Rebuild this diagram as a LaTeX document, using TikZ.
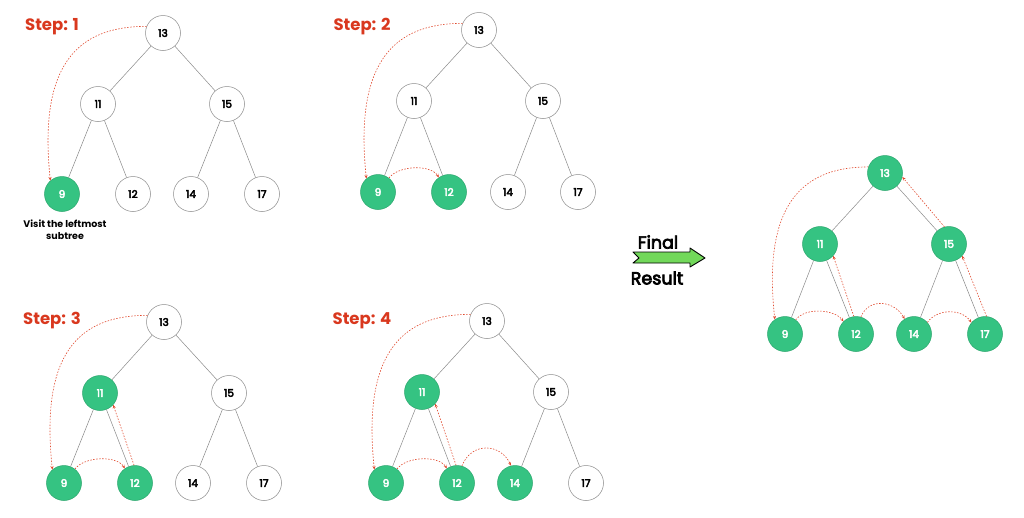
\documentclass[tikz,border=0pt]{standalone}
\usepackage{fontspec}
\setmainfont{Poppins}
\newfontfamily\popmed{Poppins}[FakeBold=4]
\usetikzlibrary{arrows.meta}
\definecolor{gfill}{HTML}{35C382}
\definecolor{gdraw}{HTML}{2AA56C}
\definecolor{stepred}{HTML}{D9381E}
\definecolor{arred}{HTML}{E04A2E}
\definecolor{edgegray}{HTML}{8A8A8A}
\definecolor{arrgreen}{HTML}{72D85A}
\tikzset{
  wn/.style={circle,draw=edgegray,line width=0.5pt,fill=white,minimum size=35pt,inner sep=0pt,font=\popmed\fontsize{10.5}{12}\selectfont,text=black},
  gn/.style={circle,draw=gdraw,line width=0.5pt,fill=gfill,minimum size=35pt,inner sep=0pt,font=\popmed\fontsize{10.5}{12}\selectfont,text=white},
  edge/.style={draw=edgegray,line width=0.5pt},
  trav/.style={draw=arred,line width=0.6pt,dash pattern=on 1.5pt off 1.5pt,-{Stealth[length=3.5pt,width=3pt]}},
  steplabel/.style={font=\fontsize{16.5}{19}\selectfont\bfseries,text=stepred,inner sep=0pt},
}
\begin{document}
\begin{tikzpicture}[x=1pt,y=-1pt]
\useasboundingbox (0,0) rectangle (1024,517);
% ---------- Step 1 ----------
\node[steplabel] (s1) at (52,27) {Step: 1};
\begin{scope}[shift={(163,33)}]
\node[wn] (a13) at (0,0) {13};
\node[wn] (a11) at (-65,71) {11};
\node[wn] (a15) at (64,71) {15};
\node[gn] (a9) at (-101,161) {9};
\node[wn] (a12) at (-30,161) {12};
\node[wn] (a14) at (28,161) {14};
\node[wn] (a17) at (99,161) {17};
\end{scope}
\draw[edge] (a13)--(a11) (a13)--(a15) (a11)--(a9) (a11)--(a12) (a15)--(a14) (a15)--(a17);
\draw[trav] (a13.158) .. controls +(-70,0) and +(-12,-115) .. (a9.131);
\node[font=\fontsize{9.5}{12}\selectfont\bfseries,align=center,inner sep=0pt] (cap) at (65,230) {Visit the leftmost\\subtree};
% ---------- Step 2 ----------
\node[steplabel] (s2) at (362,27) {Step: 2};
\begin{scope}[shift={(479,30)}]
\node[wn] (b13) at (0,0) {13};
\node[wn] (b11) at (-65,71) {11};
\node[wn] (b15) at (64,71) {15};
\node[gn] (b9) at (-101,162) {9};
\node[gn] (b12) at (-30,162) {12};
\node[wn] (b14) at (29,162) {14};
\node[wn] (b17) at (99,162) {17};
\end{scope}
\draw[edge] (b13)--(b11) (b13)--(b15) (b11)--(b9) (b11)--(b12) (b15)--(b14) (b15)--(b17);
\draw[trav] (b13.158) .. controls +(-70,0) and +(-12,-115) .. (b9.131);
\draw[trav] (b9.52) .. controls +(10,-13) and +(-8,-13) .. (b12.125);
% ---------- Step 3 ----------
\node[steplabel] (s3) at (52,321) {Step: 3};
\begin{scope}[shift={(164,322)}]
\node[wn] (c13) at (0,0) {13};
\node[gn] (c11) at (-64,71) {11};
\node[wn] (c15) at (65,71) {15};
\node[gn] (c9) at (-100,161) {9};
\node[gn] (c12) at (-29,161) {12};
\node[wn] (c14) at (29,161) {14};
\node[wn] (c17) at (100,161) {17};
\end{scope}
\draw[edge] (c13)--(c11) (c13)--(c15) (c11)--(c9) (c11)--(c12) (c15)--(c14) (c15)--(c17);
\draw[trav] (c13.158) .. controls +(-70,0) and +(-12,-115) .. (c9.131);
\draw[trav] (c9.52) .. controls +(10,-13) and +(-8,-13) .. (c12.125);
\draw[trav] (c12.93) -- (c11.-42);
% ---------- Step 4 ----------
\node[steplabel] (s4) at (362,321) {Step: 4};
\begin{scope}[shift={(487,321)}]
\node[wn] (d13) at (0,0) {13};
\node[gn] (d11) at (-65,71) {11};
\node[wn] (d15) at (64,71) {15};
\node[gn] (d9) at (-101,162) {9};
\node[gn] (d12) at (-30,162) {12};
\node[gn] (d14) at (28,162) {14};
\node[wn] (d17) at (99,162) {17};
\end{scope}
\draw[edge] (d13)--(d11) (d13)--(d15) (d11)--(d9) (d11)--(d12) (d15)--(d14) (d15)--(d17);
\draw[trav] (d13.158) .. controls +(-70,0) and +(-12,-115) .. (d9.131);
\draw[trav] (d9.52) .. controls +(10,-13) and +(-8,-13) .. (d12.125);
\draw[trav] (d12.93) -- (d11.-42);
\draw[trav] (d12.74) .. controls +(10,-25) and +(-10,-22) .. (d14.103);
% ---------- Final arrow ----------
\node[font=\popmed\fontsize{17.5}{20}\selectfont,inner sep=0pt] (fin) at (658,242) {Final};
\node[font=\popmed\fontsize{17.5}{20}\selectfont,inner sep=0pt] (res) at (657,278) {Result};
\filldraw[draw=black,line width=0.9pt,fill=arrgreen,line join=round]
  (633,252) -- (690,252) -- (690,248) -- (705,258) -- (690,267) -- (690,263) -- (633,263) -- (639,258) -- cycle;
% ---------- Final tree ----------
\begin{scope}[shift={(885,173)}]
\node[gn] (e13) at (0,0) {13};
\node[gn] (e11) at (-65,71) {11};
\node[gn] (e15) at (64,71) {15};
\node[gn] (e9) at (-100,161) {9};
\node[gn] (e12) at (-29,161) {12};
\node[gn] (e14) at (29,161) {14};
\node[gn] (e17) at (100,161) {17};
\end{scope}
\draw[edge] (e13)--(e11) (e13)--(e15) (e11)--(e9) (e11)--(e12) (e15)--(e14) (e15)--(e17);
\draw[trav] (e13.160) .. controls +(-70,0) and +(-12,-110) .. (e9.125);
\draw[trav] (e9.53) .. controls +(10,-13) and +(-9,-12) .. (e12.135);
\draw[trav] (e12.97) -- (e11.-42);
\draw[trav] (e12.74) .. controls +(8,-20) and +(-10,-18) .. (e14.122);
\draw[trav] (e14.41) .. controls +(10,-14) and +(-10,-14) .. (e17.140);
\draw[trav] (e17.85) -- (e15.-42);
\draw[trav] (e15.105) -- (e13.-13);
\end{tikzpicture}
\end{document}
